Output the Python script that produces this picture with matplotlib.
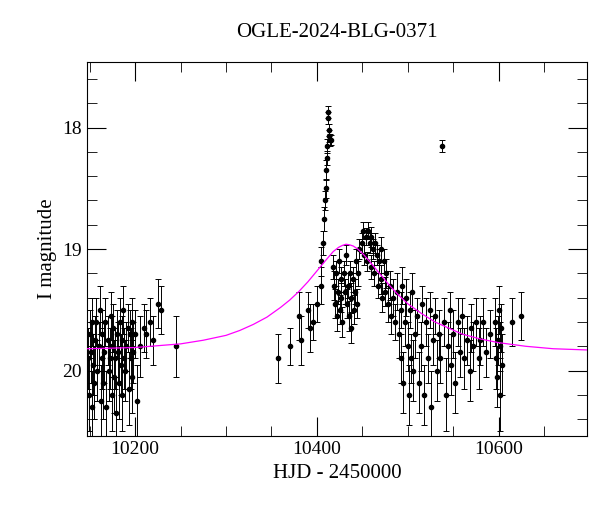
import matplotlib
matplotlib.use("Agg")
import matplotlib.pyplot as plt
from matplotlib.ticker import MultipleLocator

title = "OGLE-2024-BLG-0371"
xlabel = "HJD - 2450000"
ylabel = "I magnitude"

hjd = [10148,10149,10150,10151,10152,10153,10154,10155,10156,10157,10158,10160,10161,10162,10163,
       10164,10165,10166,10167,10168,10170,10171,10172,10173,10174,10175,10176,10177,10178,10179,
       10180,10181,10182,10183,10184,10185,10186,10187,10188,10189,10190,10192,10193,10194,10195,
       10196,10197,10198,10200,10202,10205,10210,10212,10216,10220,10225,10228,10245,
       10357,10370,10380,10382,10390,10392,10396,10400,10404,10405,10407,10408,10409,10410,10410,
       10411,10411,10412,10412,10413,10413,10414,10416,
       10418,10419,10420,10421,10422,10423,10424,10425,10426,10427,10428,10430,10431,10432,10433,
       10434,10435,10436,10437,10438,10440,10441,10442,10443,10444,10445,10446,
       10450,10451,10452,10454,10455,10456,10458,10459,10460,10462,10463,10464,10466,10467,10468,
       10470,10471,10472,10474,10475,10476,10478,10480,10482,10484,10486,10488,10490,
       10492,10493,10494,10495,10497,10498,10500,10501,10502,10504,10505,10506,10508,10510,10512,
       10514,10516,10518,10520,10522,10524,10526,10528,10530,10532,10534,10536,10538,10540,10542,
       10544,10546,10548,10550,10552,10555,10558,10560,10562,10565,10568,10570,10572,10575,10578,
       10580,10583,10586,10590,10596,10597,10598,10599,10600,10601,10602,10603,10604,10615,10625]
mag = [19.9,20.2,19.7,19.85,20.3,19.6,19.95,20.1,19.75,19.6,20.0,19.8,19.5,20.25,19.9,
       19.7,20.1,19.85,19.6,20.3,19.75,20.0,19.9,19.55,20.2,19.8,19.65,20.05,19.9,20.35,
       19.7,19.85,20.1,19.6,19.95,20.2,19.75,19.5,19.9,20.0,19.8,19.65,20.15,19.7,19.9,
       20.05,19.6,19.85,19.7,20.25,19.8,19.65,19.7,19.6,19.75,19.45,19.5,19.8,
       19.9,19.8,19.55,19.75,19.5,19.65,19.6,19.45,19.3,19.1,18.95,18.75,18.6,18.5,18.35,
       18.25,18.15,17.87,17.92,18.02,18.07,18.1,18.1,
       19.15,19.3,19.45,19.2,19.55,19.35,19.1,19.5,19.25,19.4,19.6,19.2,19.35,19.05,19.45,
       19.3,19.55,19.2,19.65,19.4,19.25,19.5,19.35,19.1,19.45,19.2,19.0,
       18.95,18.85,19.05,18.9,19.1,18.85,18.95,19.15,18.9,19.0,19.2,18.95,19.05,19.3,19.1,
       19.0,19.25,19.4,19.1,19.35,19.2,19.45,19.3,19.55,19.4,19.6,19.35,19.7,
       19.5,19.9,19.3,20.1,19.6,19.4,19.8,20.2,19.5,19.9,19.35,20.0,19.7,19.55,20.1,
       19.8,19.45,20.2,19.6,19.9,19.5,20.3,19.75,19.55,20.0,19.7,19.9,18.15,19.6,20.2,
       19.8,19.5,19.95,19.7,20.1,19.6,19.85,19.55,19.9,19.75,20.0,19.65,19.8,19.6,19.9,
       19.75,19.6,19.85,19.7,19.6,19.9,20.05,19.75,19.5,20.2,19.8,19.65,19.95,19.6,19.55]
err = [0.25,0.3,0.2,0.25,0.3,0.2,0.25,0.3,0.2,0.2,0.25,0.2,0.2,0.3,0.25,
       0.2,0.3,0.25,0.2,0.3,0.2,0.25,0.25,0.2,0.3,0.25,0.2,0.3,0.25,0.3,
       0.2,0.25,0.3,0.2,0.25,0.3,0.2,0.2,0.25,0.25,0.2,0.2,0.3,0.2,0.25,
       0.3,0.2,0.25,0.2,0.3,0.25,0.2,0.2,0.2,0.2,0.2,0.2,0.25,
       0.2,0.15,0.2,0.2,0.15,0.2,0.15,0.15,0.15,0.12,0.1,0.1,0.08,0.08,0.08,
       0.06,0.06,0.05,0.05,0.05,0.05,0.05,0.04,
       0.1,0.12,0.12,0.1,0.12,0.1,0.1,0.12,0.1,0.12,0.12,0.1,0.1,0.08,0.12,
       0.1,0.12,0.1,0.12,0.12,0.1,0.12,0.1,0.1,0.12,0.1,0.08,
       0.08,0.07,0.08,0.07,0.08,0.07,0.08,0.1,0.08,0.08,0.1,0.08,0.08,0.1,0.1,
       0.1,0.12,0.12,0.1,0.12,0.12,0.15,0.12,0.15,0.15,0.15,0.15,0.2,
       0.15,0.2,0.15,0.25,0.2,0.15,0.2,0.25,0.15,0.2,0.15,0.25,0.2,0.15,0.25,
       0.2,0.15,0.25,0.2,0.2,0.15,0.3,0.2,0.15,0.25,0.2,0.2,0.05,0.2,0.3,
       0.2,0.15,0.25,0.2,0.25,0.2,0.2,0.15,0.25,0.2,0.25,0.2,0.2,0.2,0.25,
       0.2,0.2,0.2,0.2,0.2,0.25,0.25,0.2,0.2,0.3,0.2,0.2,0.25,0.2,0.2]

model_t = [10147,10175,10200,10225,10250,10275,10300,10315,10330,10345,10360,10370,10380,10390,
           10400,10410,10418,10424,10428,10432,10436,10440,10445,10452,10460,10470,10480,10490,
           10500,10515,10530,10545,10560,10580,10600,10630,10660,10697]
model_m = [19.82,19.815,19.81,19.795,19.78,19.75,19.71,19.67,19.62,19.56,19.48,19.42,19.35,19.27,
           19.18,19.09,19.02,18.985,18.97,18.96,18.965,18.975,19.0,19.05,19.12,19.21,19.3,19.38,
           19.45,19.53,19.6,19.65,19.7,19.74,19.77,19.8,19.82,19.83]

plt.rcParams["font.family"] = "Liberation Serif"
fig, ax = plt.subplots(figsize=(6, 5.12), dpi=100)
fig.subplots_adjust(left=0.145, right=0.978, top=0.879, bottom=0.148)
ax.errorbar(hjd, mag, yerr=err, fmt="o", color="black", ms=3, lw=0.7, capsize=2, capthick=0.7)
ax.plot(model_t, model_m, color="magenta", lw=0.9, zorder=5)
ax.set_xlim(10147, 10697)
ax.set_ylim(20.54, 17.46)
ax.xaxis.set_major_locator(MultipleLocator(200))
ax.xaxis.set_minor_locator(MultipleLocator(50))
ax.yaxis.set_major_locator(MultipleLocator(1))
ax.yaxis.set_minor_locator(MultipleLocator(0.2))
ax.tick_params(which="both", direction="in", top=True, right=True, labelsize=14)
ax.tick_params(which="major", length=14)
ax.tick_params(which="minor", length=7)
ax.set_title(title, fontsize=15, pad=18)
ax.set_xlabel(xlabel, fontsize=15)
ax.set_ylabel(ylabel, fontsize=15)
fig.savefig("out.png")
